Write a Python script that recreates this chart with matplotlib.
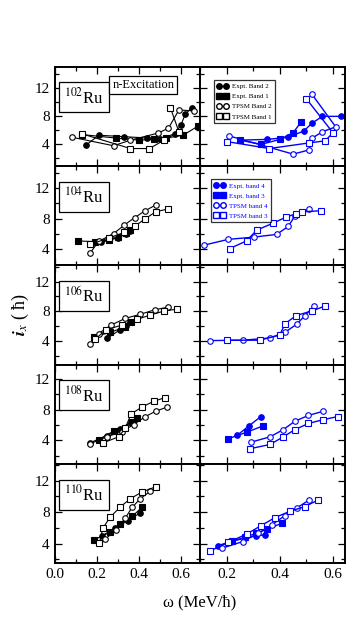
import matplotlib
matplotlib.use("Agg")
import matplotlib.pyplot as plt
from matplotlib.ticker import MultipleLocator

plt.rcParams['font.family'] = ['Liberation Serif', 'DejaVu Serif']
plt.rcParams['mathtext.fontset'] = 'stix'

# --- data: (omega, i_x) per band, left = neutron excitation, right = blue bands ---
nuclei = ["102", "104", "106", "108", "110"]

# 102Ru left
l102_eb2_x = [0.15, 0.21, 0.33, 0.44, 0.50, 0.57, 0.60, 0.62, 0.65]
l102_eb2_y = [3.9, 5.3, 5.1, 4.9, 4.8, 5.5, 6.8, 8.3, 9.2]
l102_eb1_x = [0.13, 0.29, 0.40, 0.47, 0.53, 0.61, 0.68]
l102_eb1_y = [5.4, 4.9, 4.6, 4.7, 4.9, 5.3, 6.6]
l102_tb2_x = [0.085, 0.28, 0.36, 0.49, 0.54, 0.59, 0.66]
l102_tb2_y = [5.0, 3.8, 4.6, 5.6, 6.3, 8.9, 8.8]
l102_tb1_x = [0.13, 0.36, 0.45, 0.52, 0.59, 0.55]
l102_tb1_y = [5.5, 3.4, 3.4, 4.6, 5.8, 9.2]
# 102Ru right
r102_eb2_x = [0.25, 0.35, 0.43, 0.49, 0.52, 0.56, 0.63]
r102_eb2_y = [4.6, 4.7, 5.0, 5.9, 7.0, 8.0, 8.0]
r102_eb1_x = [0.25, 0.33, 0.40, 0.45, 0.48]
r102_eb1_y = [4.6, 4.0, 4.7, 5.65, 7.2]
r102_tb2_x = [0.21, 0.45, 0.51, 0.52, 0.56, 0.61, 0.52]
r102_tb2_y = [5.2, 2.6, 3.2, 4.85, 5.8, 6.5, 11.2]
r102_tb1_x = [0.20, 0.36, 0.51, 0.57, 0.60, 0.50]
r102_tb1_y = [4.4, 3.4, 4.2, 4.5, 5.65, 10.5]

# 104Ru left
l104_eb2_x = [0.22, 0.26, 0.30, 0.34, 0.36]
l104_eb2_y = [4.9, 5.2, 5.5, 6.0, 6.4]
l104_eb1_x = [0.11, 0.19, 0.26, 0.30, 0.34, 0.36]
l104_eb1_y = [5.1, 5.0, 5.2, 5.6, 6.1, 6.5]
l104_tb2_x = [0.17, 0.21, 0.28, 0.33, 0.38, 0.43, 0.48]
l104_tb2_y = [3.55, 5.05, 6.05, 7.15, 8.15, 9.05, 9.8]
l104_tb1_x = [0.17, 0.26, 0.33, 0.38, 0.43, 0.48, 0.54]
l104_tb1_y = [4.65, 5.5, 6.2, 7.0, 8.0, 8.9, 9.3]
# 104Ru right
r104_tb4_x = [0.116, 0.206, 0.304, 0.388, 0.432, 0.457, 0.51]
r104_tb4_y = [4.55, 5.3, 5.6, 5.95, 7.0, 8.4, 9.3]
r104_tb3_x = [0.212, 0.275, 0.313, 0.373, 0.423, 0.46, 0.484, 0.555]
r104_tb3_y = [4.1, 5.1, 6.5, 7.4, 8.2, 8.65, 8.9, 9.05]

# 106Ru left
l106_eb2_x = [0.25, 0.31, 0.34, 0.36]
l106_eb2_y = [4.35, 5.5, 6.0, 6.5]
l106_eb1_x = [0.185, 0.264, 0.336, 0.363]
l106_eb1_y = [4.55, 5.15, 5.9, 6.6]
l106_tb2_x = [0.169, 0.209, 0.269, 0.336, 0.407, 0.475, 0.537]
l106_tb2_y = [3.55, 5.0, 6.15, 7.05, 7.6, 8.2, 8.55]
l106_tb1_x = [0.193, 0.245, 0.32, 0.391, 0.455, 0.521, 0.582]
l106_tb1_y = [4.25, 5.5, 6.15, 6.9, 7.5, 8.05, 8.3]
# 106Ru right
r106_tb4_x = [0.137, 0.262, 0.363, 0.419, 0.463, 0.494, 0.529]
r106_tb4_y = [4.05, 4.1, 4.4, 5.15, 6.25, 7.4, 8.75]
r106_tb3_x = [0.20, 0.325, 0.40, 0.419, 0.46, 0.52, 0.57]
r106_tb3_y = [4.1, 4.1, 4.8, 6.3, 7.4, 8.05, 8.7]

# 108Ru left
l108_eb2_x = [0.169, 0.25, 0.312, 0.363]
l108_eb2_y = [3.7, 4.6, 5.5, 6.35]
l108_eb1_x = [0.209, 0.28, 0.368, 0.391]
l108_eb1_y = [4.1, 5.2, 6.35, 6.9]
l108_tb2_x = [0.169, 0.248, 0.32, 0.375, 0.431, 0.479, 0.534]
l108_tb2_y = [3.55, 4.45, 5.15, 6.05, 7.1, 7.8, 8.35]
l108_tb1_x = [0.229, 0.304, 0.336, 0.363, 0.415, 0.47, 0.526]
l108_tb1_y = [3.65, 4.45, 5.6, 7.45, 8.35, 9.1, 9.6]
# 108Ru right
r108_eb4_x = [0.24, 0.284, 0.329]
r108_eb4_y = [4.65, 5.9, 7.1]
r108_eb3_x = [0.206, 0.275, 0.338]
r108_eb3_y = [4.2, 5.05, 5.9]
r108_tb4_x = [0.291, 0.363, 0.413, 0.457, 0.507, 0.563]
r108_tb4_y = [3.75, 4.45, 5.4, 6.5, 7.25, 7.8]
r108_tb3_x = [0.288, 0.363, 0.413, 0.457, 0.507, 0.563, 0.617]
r108_tb3_y = [2.9, 3.45, 4.45, 5.4, 6.2, 6.7, 7.1]

# 110Ru left
l110_eb2_x = [0.225, 0.288, 0.347, 0.404]
l110_eb2_y = [5.0, 5.95, 6.9, 7.85]
l110_eb1_x = [0.185, 0.264, 0.312, 0.368, 0.415]
l110_eb1_y = [4.45, 5.45, 6.45, 7.45, 8.6]
l110_tb2_x = [0.24, 0.293, 0.336, 0.368, 0.407, 0.455]
l110_tb2_y = [4.55, 5.75, 7.25, 8.6, 9.7, 10.65]
l110_tb1_x = [0.213, 0.229, 0.264, 0.312, 0.36, 0.415, 0.479]
l110_tb1_y = [4.05, 5.95, 7.35, 8.65, 9.7, 10.55, 11.2]
# 110Ru right
r110_eb4_x = [0.168, 0.22, 0.27, 0.31, 0.344]
r110_eb4_y = [3.75, 4.3, 4.7, 5.0, 5.1]
r110_eb3_x = [0.22, 0.27, 0.31, 0.35, 0.409]
r110_eb3_y = [4.3, 4.8, 5.3, 5.8, 6.6]
r110_tb4_x = [0.181, 0.26, 0.319, 0.371, 0.419, 0.463, 0.509]
r110_tb4_y = [3.4, 4.25, 5.3, 6.4, 7.55, 8.5, 9.5]
r110_tb3_x = [0.137, 0.206, 0.275, 0.328, 0.382, 0.438, 0.495, 0.542]
r110_tb3_y = [3.05, 4.15, 5.2, 6.25, 7.3, 8.1, 8.7, 9.5]

left_sets = [
    [(l102_eb2_x, l102_eb2_y, 'o', True), (l102_eb1_x, l102_eb1_y, 's', True),
     (l102_tb2_x, l102_tb2_y, 'o', False), (l102_tb1_x, l102_tb1_y, 's', False)],
    [(l104_eb2_x, l104_eb2_y, 'o', True), (l104_eb1_x, l104_eb1_y, 's', True),
     (l104_tb2_x, l104_tb2_y, 'o', False), (l104_tb1_x, l104_tb1_y, 's', False)],
    [(l106_eb2_x, l106_eb2_y, 'o', True), (l106_eb1_x, l106_eb1_y, 's', True),
     (l106_tb2_x, l106_tb2_y, 'o', False), (l106_tb1_x, l106_tb1_y, 's', False)],
    [(l108_eb2_x, l108_eb2_y, 'o', True), (l108_eb1_x, l108_eb1_y, 's', True),
     (l108_tb2_x, l108_tb2_y, 'o', False), (l108_tb1_x, l108_tb1_y, 's', False)],
    [(l110_eb2_x, l110_eb2_y, 'o', True), (l110_eb1_x, l110_eb1_y, 's', True),
     (l110_tb2_x, l110_tb2_y, 'o', False), (l110_tb1_x, l110_tb1_y, 's', False)],
]
right_sets = [
    [(r102_eb2_x, r102_eb2_y, 'o', True), (r102_eb1_x, r102_eb1_y, 's', True),
     (r102_tb2_x, r102_tb2_y, 'o', False), (r102_tb1_x, r102_tb1_y, 's', False)],
    [(r104_tb4_x, r104_tb4_y, 'o', False), (r104_tb3_x, r104_tb3_y, 's', False)],
    [(r106_tb4_x, r106_tb4_y, 'o', False), (r106_tb3_x, r106_tb3_y, 's', False)],
    [(r108_eb4_x, r108_eb4_y, 'o', True), (r108_eb3_x, r108_eb3_y, 's', True),
     (r108_tb4_x, r108_tb4_y, 'o', False), (r108_tb3_x, r108_tb3_y, 's', False)],
    [(r110_eb4_x, r110_eb4_y, 'o', True), (r110_eb3_x, r110_eb3_y, 's', True),
     (r110_tb4_x, r110_tb4_y, 'o', False), (r110_tb3_x, r110_tb3_y, 's', False)],
]
ylims = [(0.9, 15.1), (1.9, 14.9), (0.8, 14.2), (0.9, 13.9), (1.5, 14.1)]

fig = plt.figure(figsize=(3.54, 6.28), dpi=100)
x0, xm, x1 = 54.5 / 354, 200 / 354, 345 / 354
top, bot = 1 - 66.7 / 628, 1 - 563.3 / 628
h = (top - bot) / 5


def style(ax, xlim, ylim, show_x, show_y):
    ax.set_xlim(*xlim)
    ax.set_ylim(*ylim)
    ax.xaxis.set_major_locator(MultipleLocator(0.2))
    ax.xaxis.set_minor_locator(MultipleLocator(0.1))
    ax.yaxis.set_major_locator(MultipleLocator(4))
    ax.yaxis.set_minor_locator(MultipleLocator(2))
    ax.tick_params(which='both', direction='in', top=True, right=True,
                   labelsize=11, width=0.9)
    ax.tick_params(which='major', length=5)
    ax.tick_params(which='minor', length=3)
    for s in ax.spines.values():
        s.set_linewidth(1.4)
    if not show_x:
        ax.tick_params(labelbottom=False)
    if not show_y:
        ax.tick_params(labelleft=False)
    else:
        ax.set_yticks([4, 8, 12])


def draw(ax, sets, color, lw):
    for xs, ys, m, filled in sets:
        ax.plot(xs, ys, color=color, lw=lw, marker=m, ms=4.0,
                mfc=color if filled else 'white', mec=color, mew=0.8)


for i in range(5):
    yb = top - (i + 1) * h
    axl = fig.add_axes([x0, yb, xm - x0, h])
    axr = fig.add_axes([xm, yb, x1 - xm, h])
    style(axl, (0, 0.69), ylims[i], i == 4, True)
    style(axr, (0.1, 0.645), ylims[i], i == 4, False)
    draw(axl, left_sets[i], 'black', 0.8)
    draw(axr, right_sets[i], 'blue', 1.0)
    axl.text(0.205, 0.69, "$^{%s}$Ru" % nuclei[i], transform=axl.transAxes,
             ha='center', va='center', fontsize=12,
             bbox=dict(boxstyle='square,pad=0.3', fc='white', ec='black', lw=0.9))
    if i == 0:
        axl.text(0.61, 0.815, "n-Excitation", transform=axl.transAxes,
                 ha='center', va='center', fontsize=9,
                 bbox=dict(boxstyle='square,pad=0.25', fc='white', ec='black', lw=0.9))
        hs = [axr.plot([], [], color='black', lw=0.8, marker=m, ms=4,
                       mfc='black' if f else 'white', mec='black')[0]
              for m, f in [('o', True), ('s', True), ('o', False), ('s', False)]]
        lg = axr.legend(hs, ["Expt. Band 2", "Expt. Band 1", "TPSM Band 2", "TPSM Band 1"],
                        loc='upper left', bbox_to_anchor=(0.07, 0.9), fontsize=5,
                        numpoints=2, handlelength=1.6, fancybox=False,
                        borderpad=0.5, labelspacing=0.6, handletextpad=0.5)
        lg.get_frame().set_edgecolor('black')
        lg.get_frame().set_linewidth(0.9)
    if i == 1:
        hs = [axr.plot([], [], color='blue', lw=1.0, marker=m, ms=4,
                       mfc='blue' if f else 'white', mec='blue')[0]
              for m, f in [('o', True), ('s', True), ('o', False), ('s', False)]]
        lg = axr.legend(hs, ["Expt. band 4", "Expt. band 3", "TPSM band 4", "TPSM band 3"],
                        loc='upper left', bbox_to_anchor=(0.05, 0.9), fontsize=5,
                        numpoints=2, handlelength=1.6, fancybox=False, labelcolor='blue',
                        borderpad=0.5, labelspacing=0.6, handletextpad=0.5)
        lg.get_frame().set_edgecolor('black')
        lg.get_frame().set_linewidth(0.9)

fig.text(200 / 354, 1 - 602 / 628, "ω (MeV/ħ)", ha='center', va='center', fontsize=12)
fig.text(20 / 354, 1 - 315 / 628, r"$\boldsymbol{i}_x$ ( ħ)", ha='center', va='center',
         fontsize=13, rotation=90)

fig.savefig("out.png", dpi=100)
